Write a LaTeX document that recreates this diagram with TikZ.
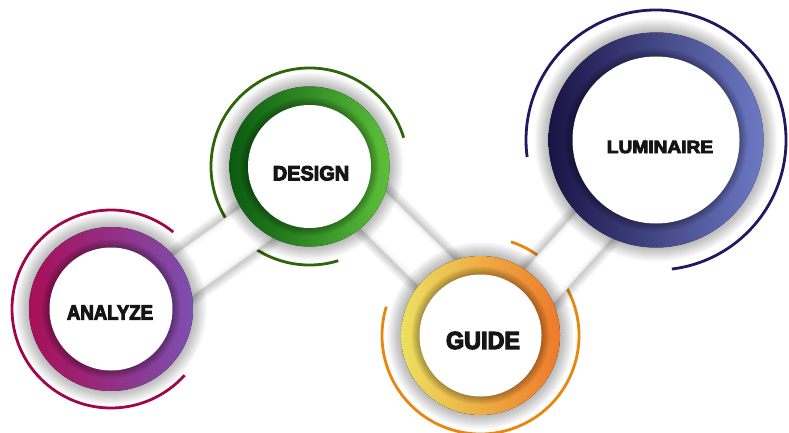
\documentclass[tikz,border=0pt]{standalone}
\usepackage{fontspec}
\newfontfamily\lbl[FakeBold=5]{Liberation Sans}
\definecolor{aL}{HTML}{A80F58}
\definecolor{aR}{HTML}{7D4FB0}
\definecolor{aArc}{HTML}{A0064A}
\definecolor{dL}{HTML}{0A5A10}
\definecolor{dR}{HTML}{5CC03A}
\definecolor{dArc}{HTML}{2E650A}
\definecolor{gL}{HTML}{EDE060}
\definecolor{gR}{HTML}{EE7A2A}
\definecolor{gArc}{HTML}{E8870C}
\definecolor{lL}{HTML}{1A1345}
\definecolor{lR}{HTML}{6C7AC4}
\definecolor{lArc}{HTML}{1C1B5E}
\definecolor{txt}{HTML}{151515}
\begin{document}
\begin{tikzpicture}[x=1pt,y=1pt,
  arcline/.style={line width=2.8pt},
  ringtext/.style={inner sep=0pt, text=txt},
  barshadow/.style={black, opacity=0.022},
]
\useasboundingbox (0,0) rectangle (789,432);
\fill[white] (0,0) rectangle (789,432);

\coordinate (A) at (111,123);
\coordinate (D) at (309.5,265.5);
\coordinate (G) at (480.5,96.5);
\coordinate (L) at (656,292);

% outer thin arcs
\draw[arcline, aArc] ([shift={(51:99)}]A) arc[start angle=51, end angle=318, radius=99];
\draw[arcline, dArc] ([shift={(17:98.5)}]D) arc[start angle=17, end angle=287, radius=98.5];
\draw[arcline, gArc] ([shift={(163:98.5)}]G) arc[start angle=163, end angle=432, radius=98.5];
\draw[arcline, lArc] ([shift={(-83:130)}]L) arc[start angle=-83, end angle=187.5, radius=130];

% connecting bars
\foreach \p/\q/\sx/\sy in {A/D/8.7/-12.2, D/G/9.6/9.6, G/L/8.2/-7.3} {
  \foreach \i in {1,...,9} {
    \pgfmathsetmacro\w{45+2*\i}
    \draw[barshadow, line width=\w pt] ([shift={(\sx,\sy)}]\p) -- ([shift={(\sx,\sy)}]\q);
  }
  \draw[line width=45pt, gray!30] ([shift={(\sx,\sy)}]\p) -- ([shift={(\sx,\sy)}]\q);
  \draw[line width=43pt, gray!12] ([shift={(\sx,\sy)}]\p) -- ([shift={(\sx,\sy)}]\q);
  \draw[line width=40pt, gray!5] ([shift={(\sx,\sy)}]\p) -- ([shift={(\sx,\sy)}]\q);
  \draw[line width=35pt, white] ([shift={(\sx,\sy)}]\p) -- ([shift={(\sx,\sy)}]\q);
}

% ring shadows
\foreach \c/\r in {A/82, D/80, G/79.5, L/107.5} {
  \foreach \i in {1,...,14} {
    \fill[black, opacity=0.018] (\c) circle[radius=\r+\i];
  }
}

% rings
\fill[left color=aL, right color=aR] (A) circle[radius=82];
\fill[left color=dL, right color=dR] (D) circle[radius=80];
\fill[left color=gL, right color=gR] (G) circle[radius=79.5];
\fill[left color=lL, right color=lR] (L) circle[radius=107.5];

% inner shadows and white discs
\foreach \c/\r in {A/61.5, D/61.5, G/61, L/83.5} {
  \foreach \i in {1,...,8} {
    \fill[black, opacity=0.04] (\c) circle[radius=\r+\i];
  }
  \fill[white] (\c) circle[radius=\r];
}

% labels
\node[ringtext, font=\lbl\bfseries\fontsize{20.9}{22}\selectfont, xscale=0.89] (tA) at (110,119.5) {ANALYZE};
\node[ringtext, font=\lbl\bfseries\fontsize{20.5}{22}\selectfont, xscale=0.97] (tD) at (311,258.7) {DESIGN};
\node[ringtext, font=\lbl\bfseries\fontsize{24.6}{26}\selectfont, xscale=0.95] (tG) at (483,91.5) {GUIDE};
\node[ringtext, font=\lbl\bfseries\fontsize{17.7}{19}\selectfont, xscale=1.08] (tL) at (660,285) {LUMINAIRE};
\end{tikzpicture}
\end{document}
